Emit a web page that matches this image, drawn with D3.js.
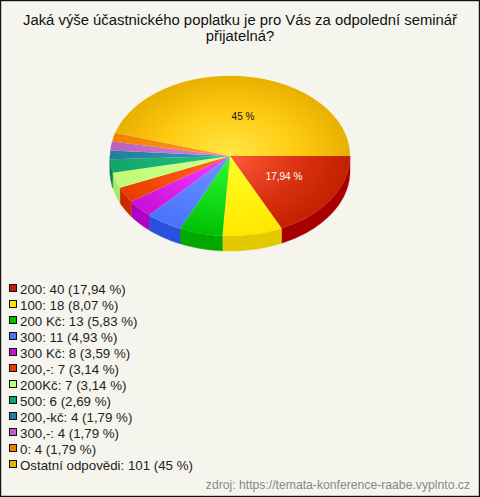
<!DOCTYPE html>
<html><head><meta charset="utf-8">
<script src="https://cdn.jsdelivr.net/npm/d3@7"></script>
<style>html,body{margin:0;padding:0;background:#fff}svg{display:block}text{font-family:"Liberation Sans",Arial,sans-serif}</style>
</head><body><svg id="c" width="480" height="497"></svg>
<script>
(function(){
const titleLines=["Jaká výše účastnického poplatku je pro Vás za odpolední seminář","přijatelná?"];
const categories=["200","100","200 Kč","300","300 Kč","200,-","200Kč","500","200,-kč","300,-","0","Ostatní odpovědi"];
const counts=[40,18,13,11,8,7,7,6,4,4,4,101];
const percents=["17,94 %","8,07 %","5,83 %","4,93 %","3,59 %","3,14 %","3,14 %","2,69 %","1,79 %","1,79 %","1,79 %","45 %"];
const baseColors=["#c22000","#ffe600","#00c000","#4a72f8","#c510d5","#e63c00","#c0fa78","#0fa468","#1f7f9c","#bb5fc0","#ef7f00","#e8b000"];
const midColors=["#dc3414","#fff210","#14dc1c","#5a82ff","#e024f0","#f85010","#c8ff80","#1cb474","#2c8ca8","#cc70cc","#f88c10","#ffcc14"];
const lightColors=["#ff5a38","#ffff28","#30fa30","#6c96ff","#f040ff","#ff6a20","#ceff88","#28c080","#3a9ab8","#dd80dd","#ff9a20","#ffe848"];
const sideColors=["#a80000","#e3c900","#00a800","#2a50e0","#ae00c0","#cc2800","#a8e868","#0a7a4c","#1a6a80","#9848a0","#c86800","#c09000"];
const sliceLabels=[{i:0,text:"17,94 %",fill:"#fff",x:284,y:180},{i:11,text:"45 %",fill:"#111",x:243,y:120}];
const source="zdroj: https://temata-konference-raabe.vyplnto.cz";

const W=480,H=497,cx=230,cy=156,rx=120,ry=80,depth=15;
const svg=d3.select("#c");
svg.append("rect").attr("x",.5).attr("y",.5).attr("width",W-1).attr("height",H-1).attr("fill","#f5f5ee").attr("stroke","#111").attr("stroke-width",1.4);

const t=svg.append("text").attr("text-anchor","middle").attr("font-size",14.85).attr("fill","#111");
titleLines.forEach((l,i)=>t.append("tspan").attr("x",240).attr("y",25+i*15.5).text(l));

const pie=d3.pie().sort(null).startAngle(Math.PI/2).endAngle(Math.PI/2+2*Math.PI)(counts);
const defs=svg.append("defs");
baseColors.forEach((c,i)=>{
  const g=defs.append("radialGradient").attr("id","g"+i).attr("gradientUnits","userSpaceOnUse").attr("cx",0).attr("cy",0).attr("r",1);
  g.append("stop").attr("offset","0").attr("stop-color",lightColors[i]);
  g.append("stop").attr("offset","0.55").attr("stop-color",midColors[i]);
  g.append("stop").attr("offset","1").attr("stop-color",c);
});
const px=a=>cx+rx*Math.sin(a), py=a=>cy-ry*Math.cos(a);

const sideG=svg.append("g");
pie.forEach((d,i)=>{
  const a0=Math.max(d.startAngle,Math.PI/2), a1=Math.min(d.endAngle,3*Math.PI/2);
  if(a1<=a0) return;
  const p=d3.path();
  p.moveTo(px(a0),py(a0));
  const n=Math.max(2,Math.ceil((a1-a0)/0.02));
  const as=d3.range(n+1).map(k=>a0+(a1-a0)*k/n);
  as.forEach(a=>p.lineTo(px(a),py(a)));
  as.slice().reverse().forEach(a=>p.lineTo(px(a),py(a)+depth));
  p.closePath();
  sideG.append("path").attr("d",p.toString()).attr("fill",sideColors[i]).attr("stroke",sideColors[i]).attr("stroke-width",.4);
});

const arc=d3.arc().innerRadius(0).outerRadius(1);
const face=svg.append("g").attr("transform",`translate(${cx},${cy}) scale(${rx},${ry})`);
face.selectAll("path").data(pie).join("path").attr("d",arc).attr("fill",(d,i)=>`url(#g${i})`);

sliceLabels.forEach(l=>{
  svg.append("text").attr("x",l.x).attr("y",l.y).attr("text-anchor","middle").attr("font-size",10).attr("fill",l.fill).text(l.text);
});

const y=d3.scalePoint().domain(d3.range(categories.length)).range([289,465]);
categories.forEach((c,i)=>{
  svg.append("rect").attr("x",9.5).attr("y",y(i)-4.5).attr("width",7).attr("height",7).attr("fill",baseColors[i]).attr("stroke","#111").attr("stroke-width",1);
  svg.append("text").attr("x",20).attr("y",y(i)+4.5).attr("font-size",13.3).attr("fill","#222").text(`${c}: ${counts[i]} (${percents[i]})`);
});
svg.append("text").attr("x",470).attr("y",489).attr("text-anchor","end").attr("font-size",12.2).attr("fill","#888").text(source);
})();
</script></body></html>
